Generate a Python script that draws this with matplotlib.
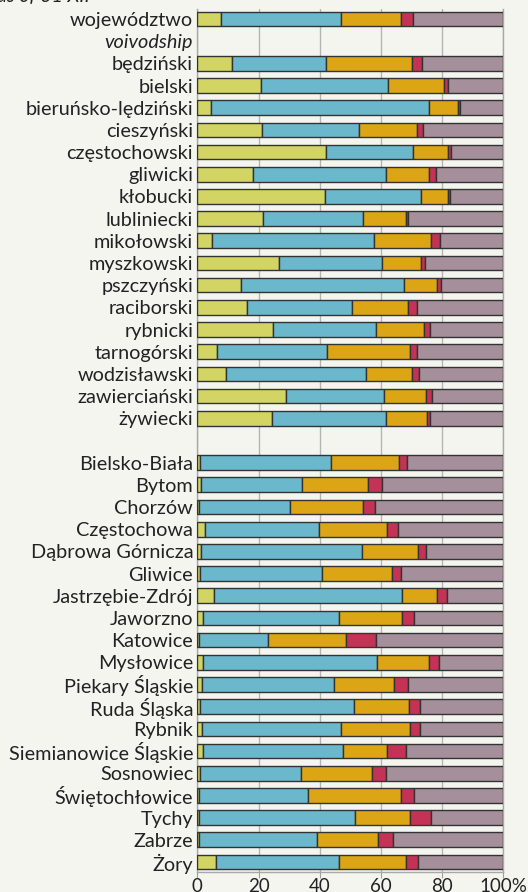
import numpy as np
import matplotlib
matplotlib.use("Agg")
import matplotlib.pyplot as plt

labels = ["województwo", "voivodship", "będziński", "bielski", "bieruńsko-lędziński",
          "cieszyński", "częstochowski", "gliwicki", "kłobucki", "lubliniecki",
          "mikołowski", "myszkowski", "pszczyński", "raciborski", "rybnicki",
          "tarnogórski", "wodzisławski", "zawierciański", "żywiecki", "",
          "Bielsko-Biała", "Bytom", "Chorzów", "Częstochowa", "Dąbrowa Górnicza",
          "Gliwice", "Jastrzębie-Zdrój", "Jaworzno", "Katowice", "Mysłowice",
          "Piekary Śląskie", "Ruda Śląska", "Rybnik", "Siemianowice Śląskie",
          "Sosnowiec", "Świętochłowice", "Tychy", "Zabrze", "Żory"]

nan = np.nan
s1 = [7.8, nan, 11.4, 20.8, 4.6, 21.0, 42.2, 18.3, 41.8, 21.6, 4.8, 26.6, 14.4, 16.3, 24.9,
      6.5, 9.5, 29.1, 24.4, nan, 0.9, 1.1, 0.7, 2.6, 1.3, 1.0, 5.4, 1.7, 0.4, 1.7, 1.6, 0.8,
      1.6, 1.9, 1.0, 0.7, 0.7, 0.7, 6.1]
s2 = [39.1, nan, 30.8, 41.6, 71.1, 31.8, 28.2, 43.4, 31.4, 32.4, 53.0, 33.7, 53.1, 34.4, 33.5,
      35.8, 45.6, 32.0, 37.3, nan, 42.7, 33.1, 29.6, 37.3, 52.5, 39.8, 61.6, 44.6, 22.6, 57.1,
      43.2, 50.5, 45.2, 45.8, 32.8, 35.6, 50.7, 38.3, 40.1]
s3 = [19.8, nan, 27.8, 18.3, 9.6, 19.1, 11.4, 13.9, 8.6, 14.2, 18.7, 12.9, 10.7, 18.3, 15.7,
      27.2, 15.2, 13.5, 13.4, nan, 22.3, 21.5, 23.9, 22.2, 18.2, 22.8, 11.4, 20.6, 25.6, 17.0,
      19.4, 18.0, 22.8, 14.2, 23.2, 30.4, 18.1, 19.9, 21.9]
s4 = [3.7, nan, 3.3, 1.1, 0.6, 1.7, 1.1, 2.3, 0.8, 0.8, 2.7, 1.3, 1.6, 2.7, 1.9,
      2.2, 2.1, 2.1, 1.0, nan, 2.7, 4.6, 4.0, 3.5, 2.9, 3.1, 3.3, 3.8, 9.8, 3.1,
      4.5, 3.4, 3.2, 6.3, 4.8, 4.0, 6.8, 4.9, 3.9]
s5 = [29.6, nan, 26.7, 18.2, 14.1, 26.4, 17.1, 22.1, 17.4, 31.0, 20.8, 25.5, 20.2, 28.3, 24.0,
      28.3, 27.6, 23.3, 23.9, nan, 31.4, 39.7, 41.8, 34.4, 25.1, 33.3, 18.3, 29.3, 41.6, 21.1,
      31.3, 27.3, 27.2, 31.8, 38.2, 29.3, 23.7, 36.2, 28.0]

x_ticks = [0, 20, 40, 60, 80, 100]
x_ticklabels = ["0", "20", "40", "60", "80", "100%"]

colors = ["#d2d464", "#6bb8cc", "#dba516", "#c43356", "#a48f9b"]
bg = "#f5f5f0"

plt.rcParams['font.family'] = ['Lato', 'DejaVu Sans']

fig = plt.figure(figsize=(5.28, 8.92), dpi=100, facecolor=bg)
ax = fig.add_axes([197.3 / 528, 1 - 871.7 / 892, 306.0 / 528, (871.7 - 9.2) / 892])
ax.set_facecolor(bg)

n = len(labels)
pos = np.arange(n)
series = [np.array(s, dtype=float) for s in (s1, s2, s3, s4, s5)]
mask = ~np.isnan(series[0])
left = np.zeros(n)
for vals, c in zip(series, colors):
    ax.barh(pos[mask], vals[mask], left=left[mask], height=0.66, color=c,
            edgecolor="#333333", linewidth=1.0, zorder=3)
    left = left + np.nan_to_num(vals)

ax.set_xlim(0, 100)
ax.set_ylim(n - 1 + 0.44, -0.44)
ax.set_yticks(pos)
ax.set_yticklabels(labels, fontsize=14.3, color="#222222")
for t in ax.get_yticklabels():
    if t.get_text() == "voivodship":
        t.set_fontstyle("italic")
ax.tick_params(axis="y", length=0, pad=3)
ax.set_xticks(x_ticks)
ax.set_xticklabels(x_ticklabels, fontsize=13.5, color="#222222")
ax.tick_params(axis="x", length=4, color="#a0a0a0", pad=0.5)
ax.grid(axis="x", color="#b4b4b4", linewidth=1.0, zorder=0)
ax.set_axisbelow(True)
ax.spines["top"].set_visible(False)
for side in ["left", "right", "bottom"]:
    ax.spines[side].set_color("#a8a8a8")
    ax.spines[side].set_linewidth(1.0)

fig.text(-0.005, 1 - 2.5 / 892, "as of 31 XII", fontsize=14, style="italic",
         color="#222222", ha="left", va="baseline")

fig.savefig("out.png", dpi=100, facecolor=bg)
